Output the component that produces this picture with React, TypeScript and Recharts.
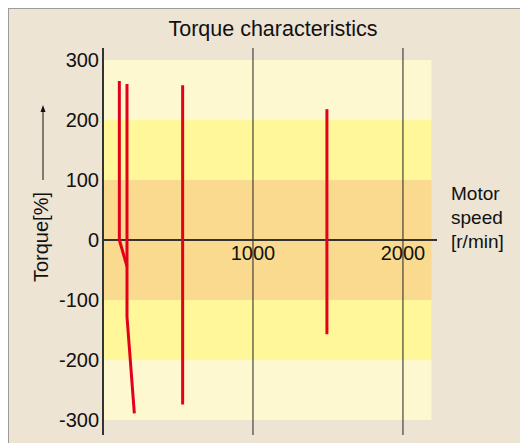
import React from 'react';
import {
  ComposedChart,
  Line,
  XAxis,
  YAxis,
  ReferenceArea,
  ReferenceLine,
  ReferenceDot,
} from 'recharts';

// Red characteristic curves (speed r/min, torque %)
const curveA = [
  { x: 109, y: 265 },
  { x: 109, y: 0 },
  { x: 160, y: -44 },
];
const curveB = [
  { x: 160, y: 260 },
  { x: 160, y: -128 },
  { x: 209, y: -289 },
];
const curveC = [
  { x: 531, y: 258 },
  { x: 531, y: -274 },
];
const curveD = [
  { x: 1493, y: 218 },
  { x: 1493, y: -157 },
];
const curves = [curveA, curveB, curveC, curveD];

const yTicks = [300, 200, 100, 0, -100, -200, -300];
const xGridValues = [1000, 2000];
const bands = [
  { y1: 200, y2: 300, fill: '#FEF8D0' },
  { y1: 100, y2: 200, fill: '#FFF79A' },
  { y1: -100, y2: 100, fill: '#FADA8E' },
  { y1: -200, y2: -100, fill: '#FFF79A' },
  { y1: -300, y2: -200, fill: '#FEF8D0' },
];
const bandEnd = 2190;
const xMax = 2227;
const yDomain = [-325, 320];

const FONT = '"Liberation Sans", Arial, sans-serif';

const YLabel = () => (
  <g>
    <text
      transform="translate(39, 228) rotate(-90)"
      textAnchor="middle"
      fontFamily={FONT}
      fontSize={20}
      fill="#111"
    >
      Torque[%]
    </text>
    <line x1={34} y1={171} x2={34} y2={101} stroke="#111" strokeWidth={1} />
    <path d="M31.5,103 L34,96 L36.5,103 Z" fill="#111" />
  </g>
);

export default function App() {
  return (
    <div
      style={{
        position: 'relative',
        width: 519,
        height: 434,
        borderTop: '1px solid #9c9c9c',
        borderLeft: '1px solid #9c9c9c',
        background: '#EDE4D4',
        fontFamily: FONT,
      }}
    >
      <div
        style={{
          position: 'absolute',
          left: 114,
          top: 8,
          width: 300,
          textAlign: 'center',
          fontSize: 21.5,
          lineHeight: '24px',
          color: '#111',
        }}
      >
        Torque characteristics
      </div>
      <div
        style={{
          position: 'absolute',
          left: 442,
          top: 173,
          fontSize: 19,
          lineHeight: '24px',
          color: '#111',
        }}
      >
        Motor
        <br />
        speed
        <br />
        [r/min]
      </div>
      <ComposedChart
        width={519}
        height={434}
        margin={{ top: 39, right: 91, bottom: 8, left: 0 }}
      >
        <XAxis type="number" dataKey="x" domain={[0, xMax]} hide allowDataOverflow />
        <YAxis
          type="number"
          domain={yDomain}
          ticks={yTicks}
          width={94}
          interval={0}
          allowDataOverflow
          tickLine={false}
          tickSize={2}
          tickMargin={2}
          axisLine={{ stroke: '#333', strokeWidth: 2 }}
          tick={{ fontSize: 20, fill: '#111', fontFamily: FONT }}
          label={<YLabel />}
        />
        {bands.map((b, i) => (
          <ReferenceArea
            key={i}
            x1={0}
            x2={bandEnd}
            y1={b.y1}
            y2={b.y2}
            fill={b.fill}
            fillOpacity={1}
            stroke="none"
          />
        ))}
        {xGridValues.map((v) => (
          <ReferenceLine key={v} x={v} stroke="#222" strokeWidth={1} />
        ))}
        <ReferenceLine y={0} stroke="#333" strokeWidth={2} />
        {xGridValues.map((v) => (
          <ReferenceDot
            key={'d' + v}
            x={v}
            y={0}
            r={0}
            fill="none"
            stroke="none"
            label={{
              value: String(v),
              position: 'bottom',
              offset: 6,
              fontSize: 20,
              fill: '#111',
              fontFamily: FONT,
            }}
          />
        ))}
        {curves.map((c, i) => (
          <Line
            key={i}
            data={c}
            dataKey="y"
            type="linear"
            stroke="#E3001B"
            strokeWidth={3}
            dot={false}
            activeDot={false}
            isAnimationActive={false}
          />
        ))}
      </ComposedChart>
    </div>
  );
}
